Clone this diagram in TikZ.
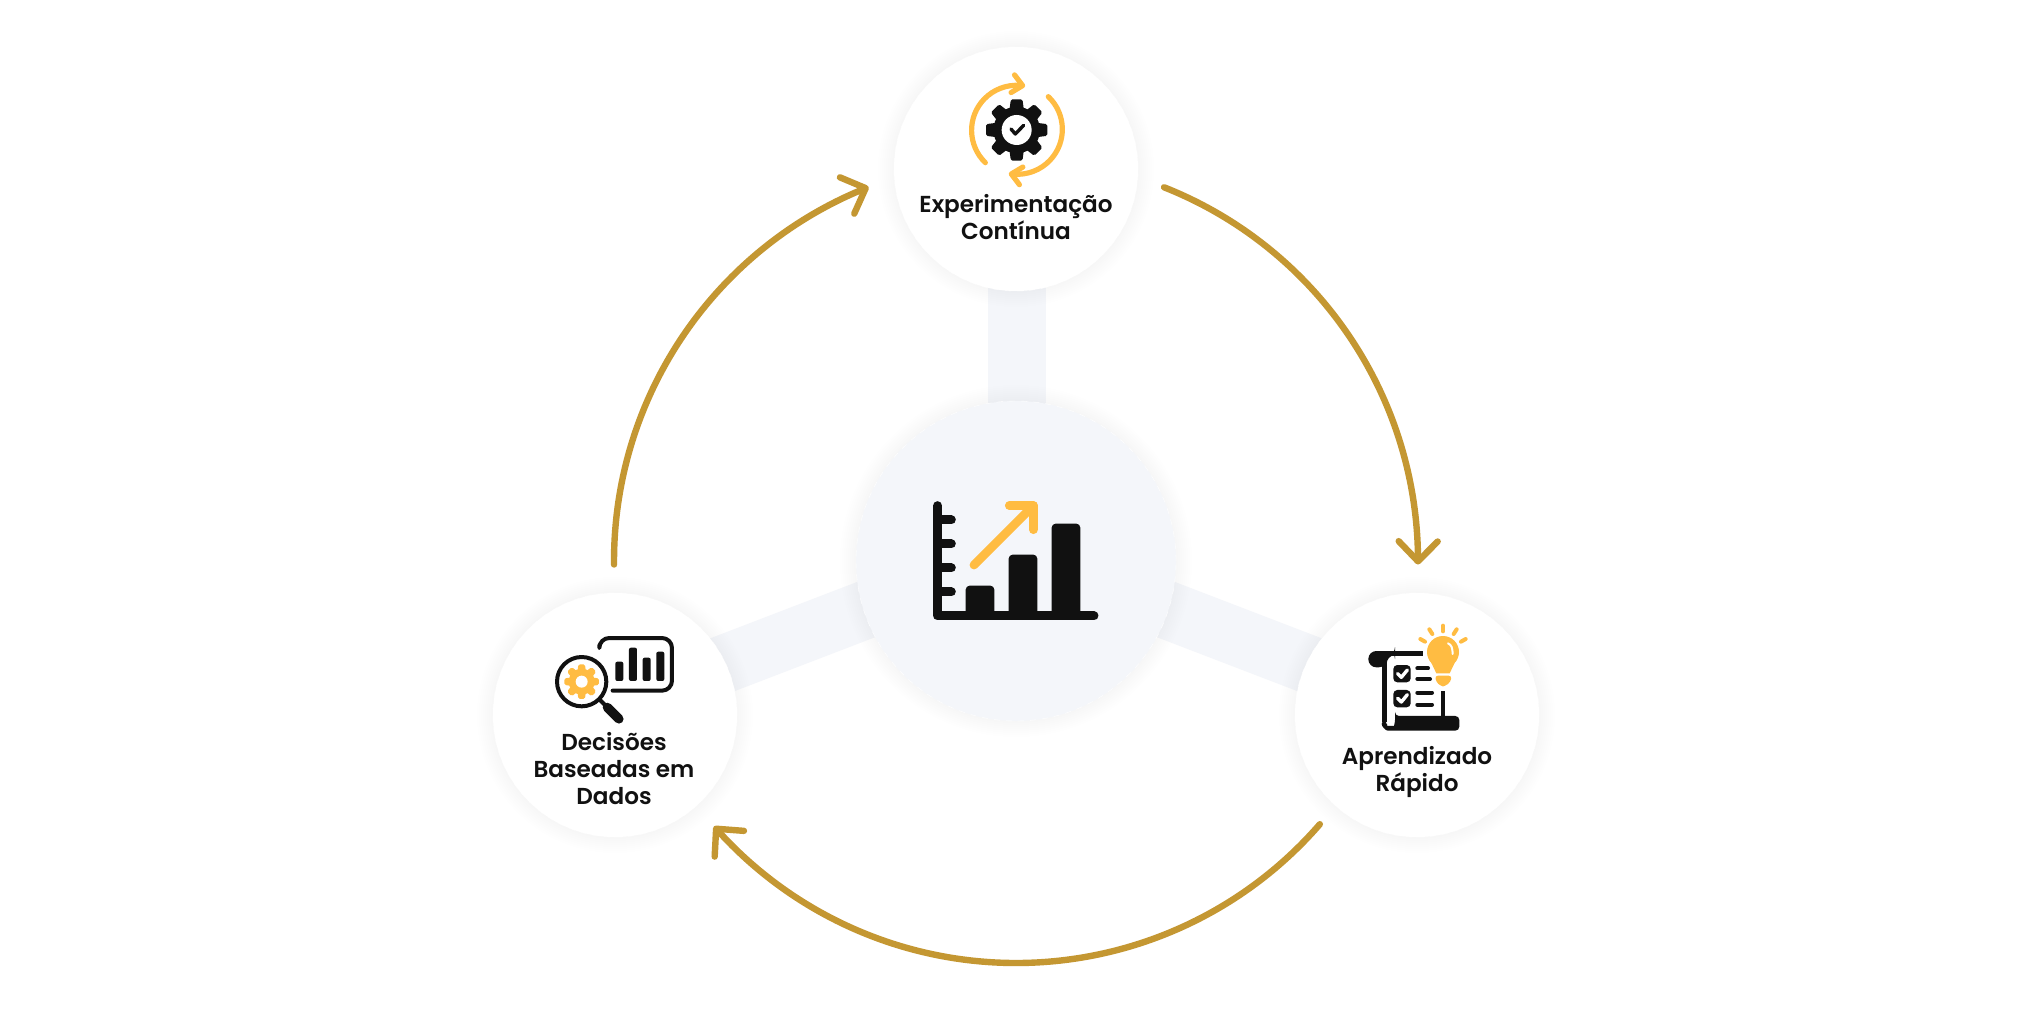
\documentclass[tikz,border=0pt]{standalone}
\usepackage{fontspec}
\usepackage{tikz}
\usetikzlibrary{arrows.meta,bending,backgrounds,calc}
\setmainfont{Poppins}[UprightFont=* SemiBold]
\newcommand{\gearicon}[5]{%
\begin{scope}[shift={(#1)}]
\fill[#4] (0,0) circle[radius=#3];
\foreach \a in {0,45,...,315}
  \fill[#4,rotate=\a,rounded corners=0.8pt] (#3*0.8,-#2*0.24) -- (#2,-#2*0.19) -- (#2,#2*0.19) -- (#3*0.8,#2*0.24) -- cycle;
\fill[white] (0,0) circle[radius=#5];
\end{scope}}
\tikzset{
  stepnode/.style={circle,fill=white,draw=white,line width=0.2pt,dashed,minimum size=122pt,inner sep=0pt},
  hubnode/.style={circle,fill=hubColor,draw=white,line width=0.2pt,dashed,minimum size=160pt,inner sep=0pt},
  steplabel/.style={align=center,font=\fontsize{11.55}{13.5}\selectfont,text=inkColor,inner sep=0pt},
  spoke/.style={draw=hubColor,line width=29pt},
  flowarc/.style={draw=flowColor,line width=3.2pt,line cap=round,-{Straight Barb[length=10pt,width=19.5pt,round,flex=0]}},
  inkline/.style={draw=inkColor,line width=2pt,line cap=round,line join=round},
  sunline/.style={draw=sunColor,line width=2.6pt,line cap=round,line join=round}
}
\begin{document}
\begin{tikzpicture}[x=0.5pt,y=-0.5pt]
\definecolor{hubColor}{RGB}{244,246,250}
\definecolor{flowColor}{RGB}{196,151,50}
\definecolor{inkColor}{RGB}{17,17,17}
\definecolor{sunColor}{RGB}{255,188,66}
\path[use as bounding box] (0,0) rectangle (2032,1011);

\node[hubnode] (hub) at (1016,561) {};
\node[stepnode] (expNode) at (1016,169) {};
\node[stepnode] (dataNode) at (615,715) {};
\node[stepnode] (learnNode) at (1417,715) {};

\begin{scope}[on background layer]
\path[fill=white] (0,0) rectangle (2032,1011);
\draw[spoke] ([xshift=0.4pt]hub.center) -- ([xshift=0.4pt]expNode.center);
\draw[spoke] ([yshift=4.5pt]hub.center) -- ([yshift=4.5pt]dataNode.center);
\draw[spoke] ([yshift=4.5pt]hub.center) -- ([yshift=4.5pt]learnNode.center);
\foreach \d in {2,4,...,16} {
  \path[fill=black,fill opacity=0.002] (hub.center) circle[radius=160+\d];
  \path[fill=black,fill opacity=0.002] (expNode.center) circle[radius=122+\d];
  \path[fill=black,fill opacity=0.002] (dataNode.center) circle[radius=122+\d];
  \path[fill=black,fill opacity=0.002] (learnNode.center) circle[radius=122+\d];
}
\end{scope}

\coordinate (expArcStart) at ($(hub.center)+(-68.4:402)$);
\coordinate (learnArcStart) at ($(hub.center)+(40.9:402)$);
\coordinate (dataArcStart) at ($(hub.center)+(179.5:402)$);
\draw[flowarc] (expArcStart) arc[start angle=-68.4,end angle=0.5,radius=402];
\draw[flowarc] (learnArcStart) arc[start angle=40.9,end angle=138.7,radius=402];
\draw[flowarc] (dataArcStart) arc[start angle=179.5,end angle=248.5,radius=402];

\node[steplabel] (expLabel) at (1016,217) {Experimentação\\Contínua};
\node[steplabel] (dataLabel) at (614,769) {Decisões\\Baseadas em\\Dados};
\node[steplabel] (learnLabel) at (1417,772) {Aprendizado\\Rápido};

\begin{scope}[shift={(840,390)},scale=0.3333]
\draw[inkline,line width=4.5pt] (293,347) -- (293,678) -- (762,678);
\foreach \y in {390,462,534,606}
  \draw[inkline,line width=4.5pt] (293,\y) -- (334,\y);
\fill[inkColor,rounded corners=2pt] (377,678) -- (377,587) -- (463,587) -- (463,678) -- cycle;
\fill[inkColor,rounded corners=2pt] (506,678) -- (506,494) -- (592,494) -- (592,678) -- cycle;
\fill[inkColor,rounded corners=2pt] (635,678) -- (635,401) -- (721,401) -- (721,678) -- cycle;
\draw[sunline,line width=4.4pt] (402,525) -- (580,347);
\draw[sunline,line width=4.4pt] (508,347) -- (580,347) -- (580,419);
\end{scope}

\begin{scope}[shift={(880,30)},scale=0.3333]
\gearicon{410,300}{92}{70}{inkColor}{45}
\draw[inkline,line width=1.7pt] (393,297) -- (406,312) -- (431,286);
\draw[sunline,-{Straight Barb[length=5pt,width=9pt,round,flex=0]}] (316,398) arc[start angle=134,end angle=281,radius=135];
\draw[sunline,-{Straight Barb[length=5pt,width=9pt,round,flex=0]}] (505,200) arc[start angle=-46.5,end angle=101,radius=135];
\end{scope}

\begin{scope}[shift={(480,580)},scale=0.3333]
\draw[inkline,rounded corners=5pt] (358,196) -- (358,174) -- (576,174) -- (576,332) -- (398,332);
\fill[inkColor,rounded corners=1pt] (406,303) rectangle (430,245);
\fill[inkColor,rounded corners=1pt] (447,303) rectangle (471,203);
\fill[inkColor,rounded corners=1pt] (488,303) rectangle (512,233);
\fill[inkColor,rounded corners=1pt] (529,303) rectangle (553,215);
\draw[inkline] (362,362) -- (384,384);
\draw[inkline,line width=4.6pt] (382,382) -- (417,417);
\draw[inkline] (305,305) circle[radius=74];
\gearicon{305,305}{52}{39}{sunColor}{18}
\end{scope}

\begin{scope}[shift={(1280,580)},scale=0.3333]
\fill[inkColor,rounded corners=4pt] (320,262) -- (265,262) -- (265,213) -- (345,213) -- (345,225) -- (320,227) -- cycle;
\fill[inkColor] (300,213) rectangle (430,227);
\fill[inkColor] (305,225) rectangle (320,425);
\fill[inkColor] (482,333) rectangle (496,412);
\fill[inkColor,rounded corners=2pt] (345,408) -- (538,408) -- (538,452) -- (335,452) .. controls (318,452) and (305,440) .. (305,420) -- (320,420) .. controls (320,432) and (326,438) .. (332,438) .. controls (340,438) and (345,430) .. (345,408) -- cycle;
\fill[inkColor,rounded corners=2pt] (340,255) rectangle (392,307);
\fill[inkColor,rounded corners=2pt] (340,330) rectangle (392,382);
\draw[draw=white,line width=1.7pt,line cap=round,line join=round] (353,281) -- (364,292) -- (382,270);
\draw[draw=white,line width=1.7pt,line cap=round,line join=round] (353,355) -- (364,366) -- (382,344);
\draw[inkline] (412,265) -- (444,265);
\draw[inkline] (412,297) -- (450,297);
\draw[inkline] (412,338) -- (456,338);
\draw[inkline] (412,374) -- (456,374);
\fill[sunColor] (489,216) circle[radius=48];
\fill[sunColor] (450,240) -- (469,280) -- (509,280) -- (528,240) -- cycle;
\fill[sunColor,rounded corners=1.5pt] (465,287) -- (515,287) -- (512,305) -- (495,319) -- (483,319) -- (468,305) -- cycle;
\draw[draw=white,line width=1pt,line cap=round] (504,190) .. controls (514,194) and (518,204) .. (518,222);
\draw[sunline,line width=2pt] (448,148) -- (457,162);
\draw[sunline,line width=2pt] (489,137) -- (489,154);
\draw[sunline,line width=2pt] (530,148) -- (521,162);
\draw[sunline,line width=2pt] (421,177) -- (435,185);
\draw[sunline,line width=2pt] (557,177) -- (543,185);
\end{scope}
\end{tikzpicture}
\end{document}
